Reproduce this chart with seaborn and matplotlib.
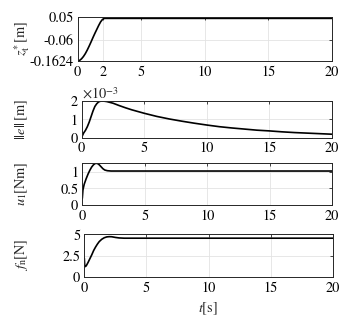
import numpy as np
import pandas as pd
import seaborn as sns
import matplotlib
matplotlib.use("Agg")
import matplotlib.pyplot as plt
from matplotlib.ticker import FixedLocator, FixedFormatter

# ---- data ----
t_z = [0, 0.15, 0.3, 0.45, 0.6, 0.75, 0.9, 1.05, 1.2, 1.35, 1.5, 1.65, 1.8, 1.95, 2.1, 3, 5, 10, 15, 20]
z_t = [-0.1624, -0.1595, -0.152, -0.141, -0.127, -0.110, -0.091, -0.071, -0.050, -0.030,
       -0.011, 0.008, 0.025, 0.037, 0.042, 0.042, 0.042, 0.042, 0.042, 0.042]

t_e = [0, 0.05, 0.15, 0.3, 0.45, 0.6, 0.75, 0.9, 1.05, 1.2, 1.35, 1.5, 1.7, 2.0, 2.5, 3.0, 3.5,
       4.0, 5, 6, 7, 8, 9, 10, 11, 12, 13, 14, 15, 16, 17, 18, 19, 20]
e_norm = [0, 0.1e-3, 0.25e-3, 0.4e-3, 0.6e-3, 0.85e-3, 1.15e-3, 1.45e-3, 1.7e-3, 1.85e-3, 1.95e-3,
          1.99e-3, 2.0e-3, 1.97e-3, 1.88e-3, 1.75e-3, 1.63e-3, 1.52e-3, 1.33e-3, 1.16e-3, 1.02e-3,
          0.9e-3, 0.79e-3, 0.69e-3, 0.6e-3, 0.53e-3, 0.47e-3, 0.41e-3, 0.37e-3, 0.32e-3, 0.28e-3,
          0.25e-3, 0.22e-3, 0.19e-3]

t_u = [0, 0.05, 0.15, 0.3, 0.45, 0.6, 0.75, 0.9, 1.05, 1.2, 1.35, 1.5, 1.65, 1.8, 2.0, 2.3, 5, 10, 15, 20]
u_1 = [0.2, 0.45, 0.62, 0.78, 0.92, 1.04, 1.14, 1.21, 1.25, 1.25, 1.21, 1.15, 1.09, 1.05, 1.03,
       1.02, 1.02, 1.02, 1.02, 1.02]

t_f = [0, 0.04, 0.15, 0.3, 0.45, 0.6, 0.75, 0.9, 1.05, 1.2, 1.4, 1.6, 1.8, 2.0, 2.2, 2.5, 2.8, 3.2,
       5, 10, 15, 20]
f_n = [2.2, 1.2, 1.3, 1.7, 2.15, 2.6, 3.1, 3.5, 3.85, 4.15, 4.42, 4.6, 4.7, 4.73, 4.72, 4.64, 4.58,
       4.55, 4.55, 4.55, 4.55, 4.55]

# tick specs
xticks_top = [0, 2, 5, 10, 15, 20]
xticks = [0, 5, 10, 15, 20]
z_ticks = [-0.1624, -0.06, 0.05]
z_ticklabels = ["-0.1624", "-0.06", "0.05"]
e_ticks = [0, 1e-3, 2e-3]
e_ticklabels = ["0", "1", "2"]
u_ticks = [0, 0.5, 1]
u_ticklabels = ["0", "0.5", "1"]
f_ticks = [0, 2.5, 5]
f_ticklabels = ["0", "2.5", "5"]

sns.set_style("white")
plt.rcParams["font.family"] = ["STIXGeneral", "DejaVu Serif"]
plt.rcParams["mathtext.fontset"] = "stix"
plt.rcParams["axes.unicode_minus"] = False

W, H = 347, 324
fig = plt.figure(figsize=(W / 100, H / 100), dpi=100)
fig.patch.set_facecolor("white")

def add_ax(left, right, top, bottom):
    return fig.add_axes([left / W, (H - bottom) / H, (right - left) / W, (bottom - top) / H])

panels = [
    dict(box=(77.7, 332, 16.7, 61), t=t_z, y=z_t, ylim=(-0.1624, 0.05), yt=z_ticks, ytl=z_ticklabels,
         xt=xticks_top, label=r"$z_{\mathrm{t}}^{*}\,$[m]"),
    dict(box=(81.7, 332, 101, 137.7), t=t_e, y=e_norm, ylim=(0, 2e-3), yt=e_ticks, ytl=e_ticklabels,
         xt=xticks, label=r"$||e||\,$[m]"),
    dict(box=(82.3, 332, 162.7, 205), t=t_u, y=u_1, ylim=(0, 1.27), yt=u_ticks, ytl=u_ticklabels,
         xt=xticks, label=r"$u_1$[Nm]"),
    dict(box=(84.3, 333, 233.5, 277), t=t_f, y=f_n, ylim=(0, 5.1), yt=f_ticks, ytl=f_ticklabels,
         xt=xticks, label=r"$f_{\mathrm{n}}$[N]"),
]

fs = 10.3  # pt
axes = []
for p in panels:
    ax = add_ax(*p["box"])
    df = pd.DataFrame({"t": p["t"], "v": p["y"]})
    sns.lineplot(data=df, x="t", y="v", ax=ax, color="black", linewidth=1.2)
    ax.set_xlim(0, 20)
    ax.set_ylim(*p["ylim"])
    ax.xaxis.set_major_locator(FixedLocator(p["xt"]))
    ax.xaxis.set_major_formatter(FixedFormatter([str(v) for v in p["xt"]]))
    ax.yaxis.set_major_locator(FixedLocator(p["yt"]))
    ax.yaxis.set_major_formatter(FixedFormatter(p["ytl"]))
    ax.grid(True, color="#e3e3e3", linewidth=0.6)
    ax.set_axisbelow(True)
    for s in ax.spines.values():
        s.set_color("#262626")
        s.set_linewidth(0.7)
        s.set_visible(True)
    ax.tick_params(direction="in", length=2.5, width=0.6, top=True, right=True,
                   labelsize=fs, colors="#262626", labelcolor="black", pad=3)
    ax.set_xlabel("")
    ax.set_ylabel("")
    y_c = (H - (p["box"][2] + p["box"][3]) / 2) / H
    fig.text(22 / W, y_c, p["label"], rotation=90, ha="center", va="center", fontsize=fs)
    axes.append(ax)

axes[1].text(0.0, 0.98, r"$\times 10^{-3}$", transform=axes[1].transAxes, ha="left", va="bottom",
             fontsize=fs)
fig.text(208 / W, (H - 309) / H, r"$t$[s]", ha="center", va="center", fontsize=fs)

fig.savefig("out.png", dpi=100, facecolor="white")
